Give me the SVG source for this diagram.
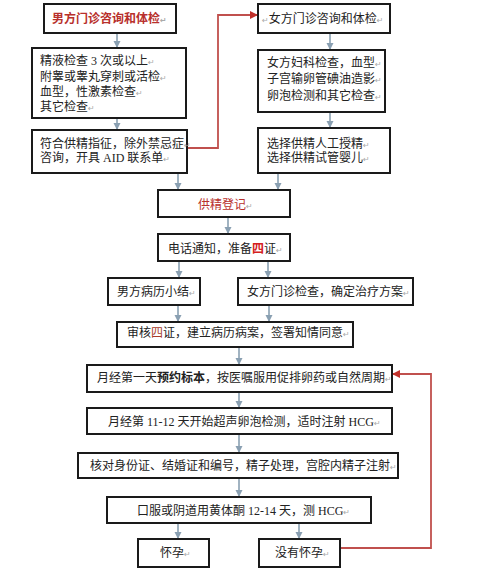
<svg xmlns="http://www.w3.org/2000/svg" width="500" height="568" viewBox="0 0 500 568">
<style>
.box{fill:#fff;stroke:#1a1a1a;stroke-width:2}
.t{font-family:"Liberation Serif","Noto Sans CJK SC",serif;font-size:12px;fill:#222}
.pm{font-family:"DejaVu Sans",sans-serif;font-size:8px;fill:#aaa}
.red{fill:#b8302c}
.b{font-weight:bold}
.c{fill:none;stroke:#8aa0b2;stroke-width:1.6}
.rc{fill:none;stroke:#c0504d;stroke-width:1.8}
</style>
<defs>
<marker id="ga" markerUnits="userSpaceOnUse" markerWidth="8" markerHeight="8" refX="7" refY="4" orient="auto"><path d="M0,0.5 L7,4 L0,7.5 Z" fill="#8aa0b2"/></marker>
<marker id="ra" markerUnits="userSpaceOnUse" markerWidth="9" markerHeight="9" refX="8" refY="4.5" orient="auto"><path d="M0,0.5 L8,4.5 L0,8.5 Z" fill="#c0302a"/></marker>
</defs>
<rect width="500" height="568" fill="#fff"/>
<g id="connectors">
<path class="c" marker-end="url(#ga)" d="M117,33V48"/>
<path class="c" marker-end="url(#ga)" d="M117,118V130"/>
<path class="c" marker-end="url(#ga)" d="M178,173V190"/>
<path class="c" marker-end="url(#ga)" d="M330,33V50"/>
<path class="c" marker-end="url(#ga)" d="M330,112V128"/>
<path class="c" marker-end="url(#ga)" d="M278,173V190"/>
<path class="c" marker-end="url(#ga)" d="M228,217V234"/>
<path class="c" marker-end="url(#ga)" d="M179,261V278"/>
<path class="c" marker-end="url(#ga)" d="M268,261V278"/>
<path class="c" marker-end="url(#ga)" d="M178,305V322"/>
<path class="c" marker-end="url(#ga)" d="M269,305V322"/>
<path class="c" marker-end="url(#ga)" d="M239,347V365"/>
<path class="c" marker-end="url(#ga)" d="M239,392V408"/>
<path class="c" marker-end="url(#ga)" d="M239,434V453"/>
<path class="c" marker-end="url(#ga)" d="M239,478V497"/>
<path class="c" marker-end="url(#ga)" d="M178,523V539"/>
<path class="c" marker-end="url(#ga)" d="M299,523V539"/>
<path class="rc" marker-end="url(#ra)" d="M187,148H218V15H258"/>
<path class="rc" marker-end="url(#ra)" d="M340,548H431V374H392"/>
</g>
<g id="n1"><rect class="box" x="44" y="4" width="132" height="29"/><text class="t red b" x="52" y="22.5">男方门诊咨询和体检<tspan class="pm">↵</tspan></text></g>
<g id="n2"><rect class="box" x="32" y="48" width="154" height="70"/>
<text class="t" x="40" y="65">精液检查 3 次或以上<tspan class="pm">↵</tspan></text>
<text class="t" x="40" y="80.5">附睾或睾丸穿刺或活检<tspan class="pm">↵</tspan></text>
<text class="t" x="40" y="95.5">血型，性激素检查<tspan class="pm">↵</tspan></text>
<text class="t" x="40" y="111">其它检查<tspan class="pm">↵</tspan></text></g>
<g id="n3"><rect class="box" x="32" y="130" width="155" height="43"/>
<text class="t" x="40" y="147.5">符合供精指征，除外禁忌症<tspan class="pm">↵</tspan></text>
<text class="t" x="40" y="162">咨询，开具 AID 联系单<tspan class="pm">↵</tspan></text></g>
<g id="n4"><rect class="box" x="258" y="4" width="132" height="29"/><text class="t" x="262" y="22.5"><tspan class="pm">↵</tspan>女方门诊咨询和体检<tspan class="pm">↵</tspan></text></g>
<g id="n5"><rect class="box" x="258" y="50" width="127" height="62"/>
<text class="t" x="267" y="66.5">女方妇科检查，血型<tspan class="pm">↵</tspan></text>
<text class="t" x="267" y="83">子宫输卵管碘油造影<tspan class="pm">↵</tspan></text>
<text class="t" x="267" y="99.5">卵泡检测和其它检查<tspan class="pm">↵</tspan></text></g>
<g id="n6"><rect class="box" x="258" y="128" width="132" height="45"/>
<text class="t" x="267" y="147.5">选择供精人工授精<tspan class="pm">↵</tspan></text>
<text class="t" x="267" y="161.5">选择供精试管婴儿<tspan class="pm">↵</tspan></text></g>
<g id="n7"><rect class="box" x="158" y="190" width="132" height="27"/><text class="t red" x="198" y="208.5">供精登记<tspan class="pm">↵</tspan></text></g>
<g id="n8"><rect class="box" x="158" y="234" width="132" height="27"/><text class="t" x="168" y="252.5">电话通知，准备<tspan class="b" fill="#d42020">四</tspan>证<tspan class="pm">↵</tspan></text></g>
<g id="n9"><rect class="box" x="108" y="278" width="92" height="27"/><text class="t" x="117" y="295.5">男方病历小结<tspan class="pm">↵</tspan></text></g>
<g id="n10"><rect class="box" x="238" y="278" width="175" height="27"/><text class="t" x="247" y="295.5">女方门诊检查，确定治疗方案<tspan class="pm">↵</tspan></text></g>
<g id="n11"><rect class="box" x="117" y="322" width="236" height="25"/><text class="t" x="127" y="336.5">审核<tspan fill="#a83a2a">四</tspan>证，建立病历病案，签署知情同意<tspan class="pm">↵</tspan></text></g>
<g id="n12"><rect class="box" x="87" y="365" width="305" height="27"/><text class="t" x="97" y="381.5">月经第一天<tspan class="b">预约标本</tspan>，按医嘱服用促排卵药或自然周期<tspan class="pm">↵</tspan></text></g>
<g id="n13"><rect class="box" x="87" y="408" width="305" height="26"/><text class="t" x="108" y="426">月经第 11-12 天开始超声卵泡检测，适时注射 HCG<tspan class="pm">↵</tspan></text></g>
<g id="n14"><rect class="box" x="78" y="453" width="320" height="25"/><text class="t" x="90" y="469.5">核对身份证、结婚证和编号，精子处理，宫腔内精子注射<tspan class="pm">↵</tspan></text></g>
<g id="n15"><rect class="box" x="107" y="497" width="264" height="26"/><text class="t" x="137" y="514.5">口服或阴道用黄体酮 12-14 天，测 HCG<tspan class="pm">↵</tspan></text></g>
<g id="n16"><rect class="box" x="138" y="539" width="71" height="28"/><text class="t" x="160" y="557">怀孕<tspan class="pm">↵</tspan></text></g>
<g id="n17"><rect class="box" x="259" y="539" width="81" height="28"/><text class="t" x="275" y="557">没有怀孕<tspan class="pm">↵</tspan></text></g>
</svg>
